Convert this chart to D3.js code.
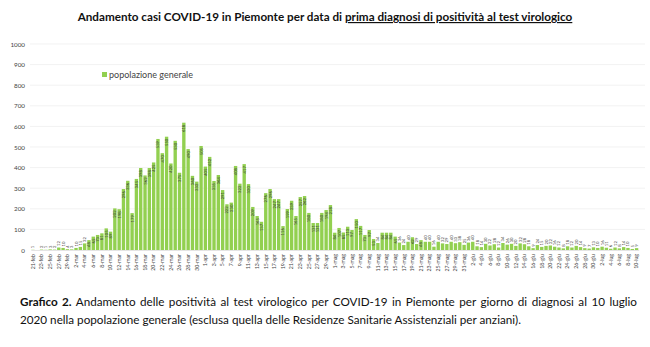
<!DOCTYPE html>
<html>
<head>
<meta charset="utf-8">
<script src="https://cdn.jsdelivr.net/npm/d3@7"></script>
<style>
  html, body { margin: 0; padding: 0; background: #fff; }
  svg { display: block; }
</style>
</head>
<body>
<svg id="chart" width="650" height="347"></svg>
<script>
// Daily new positives by date of first diagnosis, 21 Feb – 10 Jul 2020
const days = [
  "21-feb","22-feb","23-feb","24-feb","25-feb","26-feb","27-feb","28-feb","29-feb",
  "1-mar","2-mar","3-mar","4-mar","5-mar","6-mar","7-mar","8-mar","9-mar","10-mar",
  "11-mar","12-mar","13-mar","14-mar","15-mar","16-mar","17-mar","18-mar","19-mar","20-mar",
  "21-mar","22-mar","23-mar","24-mar","25-mar","26-mar","27-mar","28-mar","29-mar","30-mar","31-mar",
  "1-apr","2-apr","3-apr","4-apr","5-apr","6-apr","7-apr","8-apr","9-apr","10-apr",
  "11-apr","12-apr","13-apr","14-apr","15-apr","16-apr","17-apr","18-apr","19-apr","20-apr",
  "21-apr","22-apr","23-apr","24-apr","25-apr","26-apr","27-apr","28-apr","29-apr","30-apr",
  "1-mag","2-mag","3-mag","4-mag","5-mag","6-mag","7-mag","8-mag","9-mag","10-mag",
  "11-mag","12-mag","13-mag","14-mag","15-mag","16-mag","17-mag","18-mag","19-mag","20-mag",
  "21-mag","22-mag","23-mag","24-mag","25-mag","26-mag","27-mag","28-mag","29-mag","30-mag","31-mag",
  "1-giu","2-giu","3-giu","4-giu","5-giu","6-giu","7-giu","8-giu","9-giu","10-giu",
  "11-giu","12-giu","13-giu","14-giu","15-giu","16-giu","17-giu","18-giu","19-giu","20-giu",
  "21-giu","22-giu","23-giu","24-giu","25-giu","26-giu","27-giu","28-giu","29-giu","30-giu",
  "1-lug","2-lug","3-lug","4-lug","5-lug","6-lug","7-lug","8-lug","9-lug","10-lug"
];

const positivi = [
  1, 0, 2, 1, 3, 2, 12, 10, 4,
  3, 10, 15, 32, 48, 65, 73, 81, 105, 89,
  202, 198, 296, 336, 179, 345, 398, 362, 398, 425,
  539, 470, 550, 420, 530, 375, 618, 490, 360, 332, 505,
  405, 452, 335, 364, 291, 222, 230, 408, 322, 417,
  320, 209, 165, 137, 276, 296, 247, 247, 116, 199,
  239, 165, 257, 262, 180, 131, 131, 180, 194, 218,
  84, 107, 85, 113, 97, 150, 117, 73, 97, 53,
  34, 84, 84, 84, 65, 36, 24, 40, 62, 29,
  48, 40, 40, 16, 40, 32, 29, 40, 33, 38, 25,
  36, 40, 18, 14, 30, 22, 28, 12, 34, 26,
  30, 20, 32, 28, 18, 9, 24, 15, 20, 22,
  16, 12, 8, 18, 12, 20, 14, 9, 7, 13,
  10, 16, 11, 6, 12, 8, 14, 10, 5, 9
];

// Tick labels shown on the x axis (every second day)
const tickDays = [
  "21-feb","23-feb","25-feb","27-feb","29-feb","2-mar","4-mar","6-mar","8-mar","10-mar",
  "12-mar","14-mar","16-mar","18-mar","20-mar","22-mar","24-mar","26-mar","28-mar","30-mar",
  "1-apr","3-apr","5-apr","7-apr","9-apr","11-apr","13-apr","15-apr","17-apr","19-apr",
  "21-apr","23-apr","25-apr","27-apr","29-apr","1-mag","3-mag","5-mag","7-mag","9-mag",
  "11-mag","13-mag","15-mag","17-mag","19-mag","21-mag","23-mag","25-mag","27-mag","29-mag",
  "31-mag","2-giu","4-giu","6-giu","8-giu","10-giu","12-giu","14-giu","16-giu","18-giu",
  "20-giu","22-giu","24-giu","26-giu","28-giu","30-giu","2-lug","4-lug","6-lug","8-lug","10-lug"
];
const yTicks = [0, 100, 200, 300, 400, 500, 600, 700, 800, 900, 1000];

const titlePlain = "Andamento casi COVID-19 in Piemonte per data di ";
const titleUnderlined = "prima diagnosi di positività al test virologico";
const legendLabel = "popolazione generale";
const captionBold = "Grafico 2.";
const captionLine1 = " Andamento delle positività al test virologico per COVID-19 in Piemonte per giorno di diagnosi al 10 luglio";
const captionLine2 = "2020 nella popolazione generale (esclusa quella delle Residenze Sanitarie Assistenziali per anziani).";

const svg = d3.select("#chart");
const font = "Lato, 'Noto Sans', sans-serif";
const barColor = "#92d050";

const x = d3.scaleBand().domain(days).range([30.8, 638.7]).paddingInner(0.22).paddingOuter(0.1);
const y = d3.scaleLinear().domain([0, 1000]).range([250, 44]);

// Gridlines
svg.append("g")
  .selectAll("line")
  .data(yTicks.slice(1))
  .join("line")
  .attr("x1", 30).attr("x2", 645)
  .attr("y1", d => y(d)).attr("y2", d => y(d))
  .attr("stroke", "#ececec").attr("stroke-width", 0.7);

// Y axis
const yAxis = svg.append("g")
  .attr("transform", "translate(30,0)")
  .call(d3.axisLeft(y).tickValues(yTicks).tickFormat(d3.format("d")).tickSize(0).tickPadding(5));
yAxis.select(".domain").remove();
yAxis.selectAll("text")
  .attr("font-family", font).attr("font-size", 6.3).attr("fill", "#444");

// X axis
const xAxis = svg.append("g")
  .attr("transform", `translate(0,${y(0)})`)
  .call(d3.axisBottom(x).tickValues(tickDays).tickSize(0).tickPadding(3));
xAxis.select(".domain").attr("stroke", "#d9d9d9").attr("stroke-width", 0.7);
xAxis.selectAll("text")
  .attr("font-family", font).attr("font-size", 5.2).attr("fill", "#444")
  .attr("text-anchor", "end")
  .attr("transform", "rotate(-90)")
  .attr("x", -4).attr("y", 0).attr("dy", "0.35em");

// Bars
const data = days.map((d, i) => ({ day: d, v: positivi[i] }));
svg.append("g")
  .selectAll("rect")
  .data(data)
  .join("rect")
  .attr("x", d => x(d.day))
  .attr("width", x.bandwidth())
  .attr("y", d => y(d.v))
  .attr("height", d => y(0) - y(d.v))
  .attr("fill", barColor);

// Value labels (rotated, inside the bar top or just above small bars)
svg.append("g")
  .selectAll("text")
  .data(data.filter(d => d.v > 0))
  .join("text")
  .attr("font-family", font).attr("font-size", 4.2).attr("fill", "#3b3b3b")
  .attr("text-anchor", d => d.v >= 45 ? "end" : "start")
  .attr("transform", d => {
    const cx = x(d.day) + x.bandwidth() / 2;
    const yy = d.v >= 45 ? y(d.v) + 2 : y(d.v) - 1.5;
    return `translate(${cx},${yy}) rotate(-90)`;
  })
  .attr("dy", "0.35em")
  .text(d => d.v);

// Legend
svg.append("rect").attr("x", 102).attr("y", 72).attr("width", 5).attr("height", 5).attr("fill", barColor);
svg.append("text").attr("x", 109).attr("y", 77.5)
  .attr("font-family", font).attr("font-size", 9).attr("fill", "#444")
  .text(legendLabel);

// Title
const title = svg.append("text")
  .attr("x", 325).attr("y", 21).attr("text-anchor", "middle")
  .attr("font-family", font).attr("font-size", 11.7).attr("font-weight", "bold").attr("fill", "#111");
title.append("tspan").text(titlePlain);
title.append("tspan").attr("text-decoration", "underline").text(titleUnderlined);

// Caption: first line justified by adjusting the word gaps
const capSize = 11.7;
const cap1 = svg.append("text")
  .attr("x", 20).attr("y", 306)
  .attr("font-family", font).attr("font-size", capSize).attr("fill", "#111");
cap1.append("tspan").attr("font-weight", "bold").text(captionBold);
cap1.append("tspan").text(captionLine1);
const natural = cap1.node().getComputedTextLength();
const gaps = (captionBold + captionLine1).split(" ").length - 1;
const extra = (617 - natural) / gaps;
cap1.attr("word-spacing", extra);

svg.append("text")
  .attr("x", 20).attr("y", 324)
  .attr("font-family", font).attr("font-size", capSize).attr("fill", "#111")
  .text(captionLine2);
</script>
</body>
</html>
